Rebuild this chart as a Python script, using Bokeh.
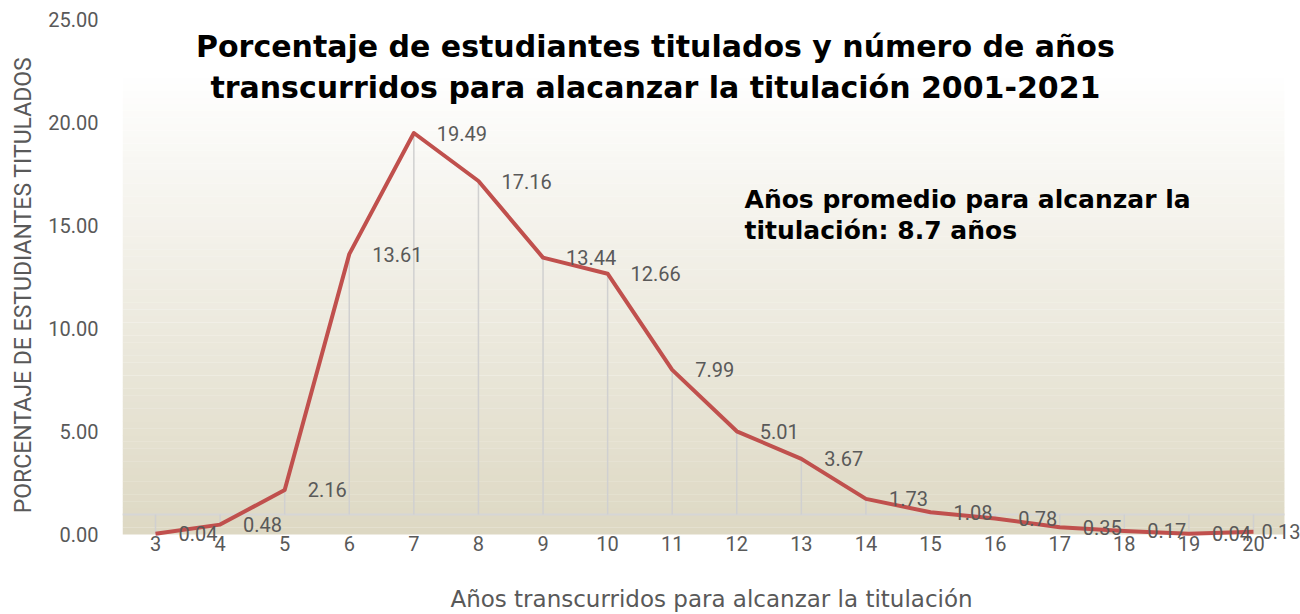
from bokeh.plotting import figure
from bokeh.models import (ColumnDataSource, LabelSet, Label, BoxAnnotation,
                          FixedTicker, PrintfTickFormatter, Range1d)
from bokeh.core.properties import value
from bokeh.embed import file_html
from bokeh.resources import INLINE

# ---- data ----
years = [3, 4, 5, 6, 7, 8, 9, 10, 11, 12, 13, 14, 15, 16, 17, 18, 19, 20]
pct = [0.04, 0.48, 2.16, 13.61, 19.49, 17.16, 13.44, 12.66, 7.99, 5.01,
       3.67, 1.73, 1.08, 0.78, 0.35, 0.17, 0.04, 0.13]
labels = ["%.2f" % v for v in pct]
y_ticks = [0, 5, 10, 15, 20, 25]

title_text = "Porcentaje de estudiantes titulados y número de años\ntranscurridos para alacanzar la titulación 2001-2021"
note_text = "Años promedio para alcanzar la\ntitulación: 8.7 años"
x_label = "Años transcurridos para alcanzar la titulación"
y_label = "PORCENTAJE DE ESTUDIANTES TITULADOS"

# ---- style ----
TXT = "#595959"
BASE = 0.97          # reference line height
X0, X1 = 2.489, 20.728
Y0, Y1 = -0.777, 25
BG_END = 20.48

p = figure(width=1300, height=614, output_backend="svg", toolbar_location=None,
           x_range=Range1d(X0, X1), y_range=Range1d(Y0, Y1),
           min_border_left=122, min_border_right=0, min_border_top=19,
           min_border_bottom=64)
p.outline_line_color = None
p.background_fill_color = "white"
p.border_fill_color = "white"
p.xgrid.visible = False
p.ygrid.visible = False

# gradient background
n = 70
top_val = 22.5
c0 = (221, 216, 195)
c1 = (255, 255, 255)
for i in range(n):
    t = (i + 0.5) / n
    col = tuple(int(round(c0[k] + (c1[k] - c0[k]) * t)) for k in range(3))
    p.add_layout(BoxAnnotation(bottom=top_val * i / n, top=top_val * (i + 1) / n + 0.01,
                               right=BG_END,
                               fill_color="#%02x%02x%02x" % col, fill_alpha=1.0,
                               line_color=None, level="underlay"))

p.add_layout(BoxAnnotation(bottom=BASE - 0.05, top=BASE + 0.05, right=BG_END,
                           fill_color="#d6d6d6", fill_alpha=1.0, line_color=None,
                           level="underlay"))

offs = [23] * (len(years) - 1) + [8]
src = ColumnDataSource(dict(x=years, y=pct, lab=labels, b=[BASE] * len(years), off=offs))
p.segment(x0="x", y0="y", x1="x", y1="b", source=src, line_color="#d0d0d0", line_width=1.5)
p.line(x="x", y="y", source=src, line_color="#C0504D", line_width=4, line_join="round")

p.add_layout(LabelSet(x="x", y="y", text="lab", source=src, x_offset="off",
                      text_align="left", text_baseline="middle",
                      text_font=value("Roboto"), text_font_size=value("20px"),
                      text_color=TXT))

# axes
p.yaxis.ticker = FixedTicker(ticks=y_ticks)
p.yaxis.formatter = PrintfTickFormatter(format="%.2f")
p.xaxis.ticker = FixedTicker(ticks=years)
for ax in (p.xaxis, p.yaxis):
    ax.axis_line_color = None
    ax.major_tick_line_color = None
    ax.minor_tick_line_color = None
    ax.major_label_text_color = TXT
    ax.major_label_text_font = "Roboto"
    ax.major_label_text_font_size = "20px"
    ax.axis_label_text_color = TXT
    ax.axis_label_text_font_style = "normal"
p.yaxis.major_label_standoff = 18
p.xaxis.major_label_standoff = -21
p.yaxis.axis_label = y_label
p.yaxis.axis_label_text_font = "Roboto"
p.yaxis.axis_label_text_font_size = "23px"
p.yaxis.axis_label_standoff = 8
p.xaxis.axis_label = x_label
p.xaxis.axis_label_text_font = "DejaVu Sans"
p.xaxis.axis_label_text_font_size = "23px"
p.xaxis.axis_label_standoff = 32

p.add_layout(Label(x=10.74, y=24.56, text=title_text, text_align="center",
                   text_baseline="top", text_font="DejaVu Sans", text_font_style="bold",
                   text_font_size="30px", text_color="black", text_line_height=1.17))
p.add_layout(Label(x=12.12, y=16.99, text=note_text, text_align="left",
                   text_baseline="top", text_font="DejaVu Sans", text_font_style="bold",
                   text_font_size="25px", text_color="black", text_line_height=1.1))

open("out.html", "w").write(file_html(p, INLINE))
